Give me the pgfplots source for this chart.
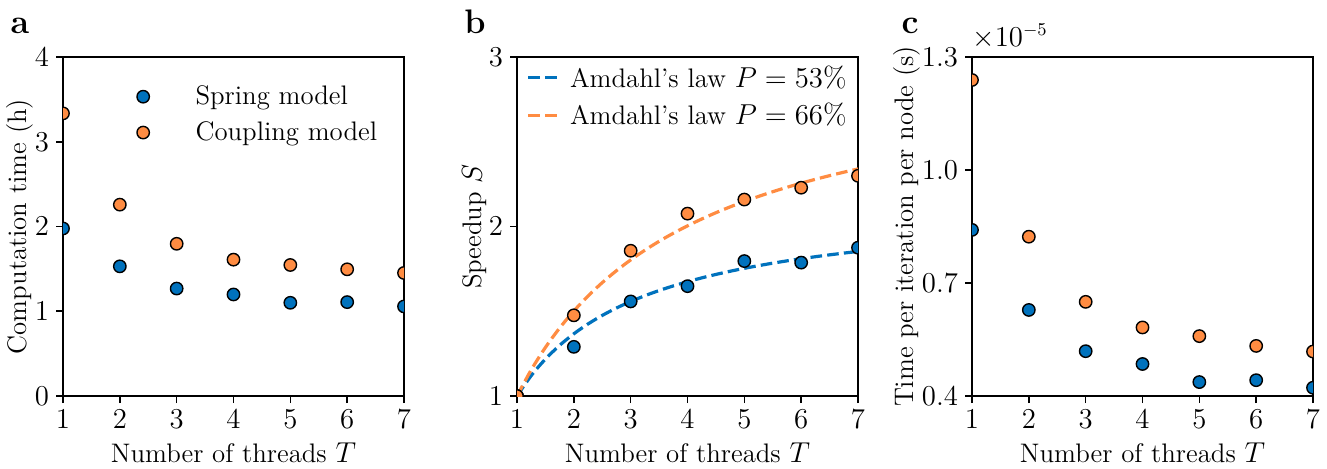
\documentclass[border=0pt]{standalone}
\usepackage{pgfplots}
\pgfplotsset{compat=1.18}
\definecolor{cblue}{RGB}{0,114,189}
\definecolor{corange}{RGB}{255,140,66}
\begin{document}
\begin{tikzpicture}
\useasboundingbox (0pt,0pt) rectangle (663.5pt,234pt);
\pgfplotsset{
 every axis/.append style={font=\fontsize{13.4}{15.5}\selectfont},
 myax/.style={scale only axis, width=170.5pt, height=169.5pt, anchor=south west,
   xmin=1, xmax=7, xtick={1,...,7}, xtick pos=bottom, ytick pos=left,
   tick align=outside, major tick length=3.5pt, clip marker paths=true,
   every tick/.style={black, line width=0.8pt}, axis line style={line width=0.8pt},
   xlabel={Number of threads $T$},
   xlabel style={yshift=0pt},
   ylabel style={yshift=-6pt},
   legend cell align=left},
 ms/.style={only marks, mark=*, mark size=3.1pt, mark options={draw=black, line width=0.7pt, fill=#1}},
 amd/.style={color=#1, line width=1.6pt, dash pattern=on 5.8pt off 2.6pt, no marks, smooth},
}
% ---------------- panel a
\begin{axis}[myax, at={(31.5pt,36pt)}, ymin=0, ymax=4, ytick={0,1,2,3,4},
  ylabel={Computation time (h)},
  legend style={draw=none, fill=none, at={(0.18,0.94)}, anchor=north west, row sep=3pt, font=\fontsize{13.4}{15.5}\selectfont},
  legend image code/.code={\path (-6pt,0pt) (24pt,0pt); \draw[#1] plot coordinates {(0pt,0pt)};}]
\addplot[ms=cblue] coordinates {(1,1.977) (2,1.530) (3,1.268) (4,1.198) (5,1.100) (6,1.108) (7,1.057)};
\addlegendentry{Spring model}
\addplot[ms=corange] coordinates {(1,3.335) (2,2.258) (3,1.796) (4,1.609) (5,1.546) (6,1.495) (7,1.452)};
\addlegendentry{Coupling model}
\end{axis}
\node[font=\fontsize{17}{20}\selectfont\bfseries, anchor=base] at (10pt,217.5pt) {a};
% ---------------- panel b
\begin{axis}[myax, at={(258.5pt,36pt)}, ymin=1, ymax=3, ytick={1,2,3},
  ylabel={Speedup $S$},
  legend style={draw=none, fill=none, at={(0.01,1.0)}, anchor=north west, row sep=2.5pt, font=\fontsize{13.4}{15.5}\selectfont},
  legend image code/.code={\draw[#1] plot coordinates {(0pt,0pt) (16.5pt,0pt)}; \path (18pt,0pt);}]
\addplot[amd=cblue] coordinates {(1,1) (1.25,1.1203) (1.5,1.2180) (1.75,1.2989) (2,1.3671) (2.25,1.4252) (2.5,1.4754) (2.75,1.5191) (3,1.5576) (3.25,1.5918) (3.5,1.6222) (3.75,1.6496) (4,1.6743) (4.25,1.6968) (4.5,1.7172) (4.75,1.7360) (5,1.7532) (5.25,1.7690) (5.5,1.7837) (5.75,1.7973) (6,1.8100) (6.25,1.8218) (6.5,1.8328) (6.75,1.8431) (7,1.8529)};
\addlegendentry{Amdahl's law $P=53\%$}
\addplot[amd=corange] coordinates {(1,1) (1.25,1.1542) (1.5,1.2865) (1.75,1.4011) (2,1.5015) (2.25,1.5901) (2.5,1.6689) (2.75,1.7394) (3,1.8029) (3.25,1.8603) (3.5,1.9125) (3.75,1.9603) (4,2.0040) (4.25,2.0442) (4.5,2.0814) (4.75,2.1158) (5,2.1478) (5.25,2.1775) (5.5,2.2053) (5.75,2.2313) (6,2.2556) (6.25,2.2785) (6.5,2.3000) (6.75,2.3204) (7,2.3396)};
\addlegendentry{Amdahl's law $P=66\%$}
\addplot[ms=cblue, forget plot] coordinates {(1,1) (2,1.290) (3,1.558) (4,1.648) (5,1.796) (6,1.787) (7,1.875)};
\addplot[ms=corange, forget plot] coordinates {(1,1) (2,1.476) (3,1.857) (4,2.076) (5,2.159) (6,2.229) (7,2.299)};
\end{axis}
\node[font=\fontsize{17}{20}\selectfont\bfseries, anchor=base] at (237.5pt,217.5pt) {b};
% ---------------- panel c
\begin{axis}[myax, name=axc, at={(486pt,36pt)}, ymin=0.4, ymax=1.3, ytick={0.4,0.7,1.0,1.3},
  yticklabel style={/pgf/number format/.cd, fixed, fixed zerofill, precision=1},
  ylabel={Time per iteration per node (s)}]
\addplot[ms=cblue] coordinates {(1,0.841) (2,0.6285) (3,0.519) (4,0.485) (5,0.437) (6,0.442) (7,0.422)};
\addplot[ms=corange] coordinates {(1,1.239) (2,0.823) (3,0.650) (4,0.582) (5,0.559) (6,0.533) (7,0.518)};
\end{axis}
\node[anchor=south west, inner sep=0pt, font=\fontsize{13.4}{15.5}\selectfont] at ([yshift=4pt]axc.north west) {$\times10^{-5}$};
\node[font=\fontsize{17}{20}\selectfont\bfseries, anchor=base] at (455pt,217.5pt) {c};
\end{tikzpicture}
\end{document}
